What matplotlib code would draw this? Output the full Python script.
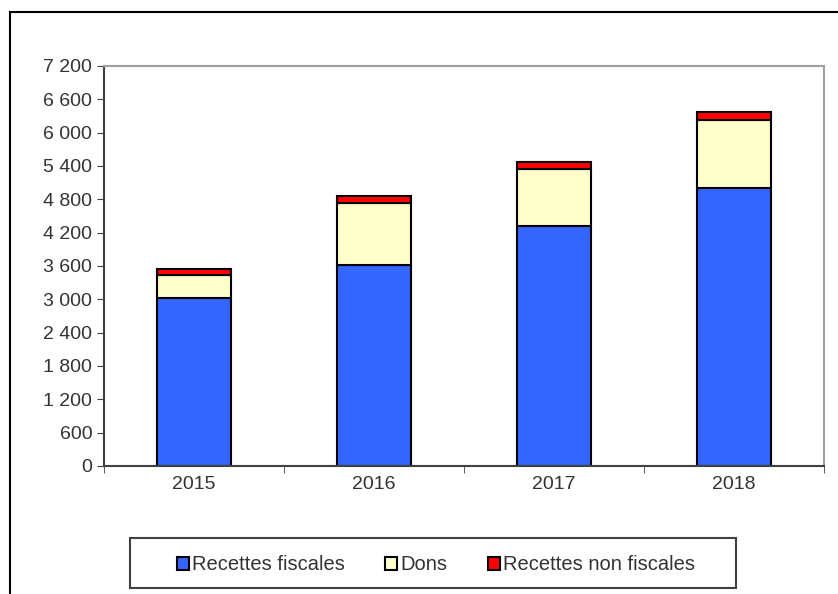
import matplotlib
matplotlib.use("Agg")
import matplotlib.pyplot as plt
from matplotlib.patches import Rectangle
from matplotlib.lines import Line2D
from matplotlib.ticker import FuncFormatter, FixedLocator
import numpy as np

plt.rcParams['font.family'] = ['Liberation Sans', 'DejaVu Sans']

years = ['2015', '2016', '2017', '2018']
recettes_fiscales = [3020, 3620, 4320, 5010]
dons = [420, 1120, 1030, 1210]
recettes_non_fiscales = [100, 120, 120, 145]

fig = plt.figure(figsize=(8.38, 5.94), dpi=100)
ax = fig.add_axes([104 / 838, 1 - 466 / 594, 720 / 838, 400 / 594])

x = np.arange(len(years))
w = 0.41
fisc = np.array(recettes_fiscales)
dn = np.array(dons)
nf = np.array(recettes_non_fiscales)

b1 = ax.bar(x, fisc, w, color='#3366FF', edgecolor='black', linewidth=1.5, label='Recettes fiscales')
b2 = ax.bar(x, dn, w, bottom=fisc, color='#FFFFCC', edgecolor='black', linewidth=1.5, label='Dons')
b3 = ax.bar(x, nf, w, bottom=fisc + dn, color='#FF0000', edgecolor='black', linewidth=1.5,
            label='Recettes non fiscales')

ax.set_xlim(-0.5, 3.5)
ax.set_ylim(0, 7200)
ax.set_yticks(np.arange(0, 7201, 600))
ax.yaxis.set_major_formatter(FuncFormatter(lambda v, p: f"{int(v):,}".replace(",", " ")))
ax.set_xticks(x)
ax.set_xticklabels(years)
ax.xaxis.set_minor_locator(FixedLocator(np.arange(-0.5, 4, 1.0)))
ax.tick_params(axis='x', which='major', length=0, labelsize=14, pad=7, colors='#333333')
ax.tick_params(axis='x', which='minor', length=5, direction='out', color='#404040')
ax.tick_params(axis='y', length=5, direction='out', labelsize=14, colors='#333333', color='#404040')

for s in ['left', 'bottom']:
    ax.spines[s].set_color('#404040')
    ax.spines[s].set_linewidth(1.5)
for s in ['top', 'right']:
    ax.spines[s].set_color('#A0A0A0')
    ax.spines[s].set_linewidth(1.5)

# outer chart frame
fig.add_artist(Line2D([10 / 838, 1], [1 - 12 / 594, 1 - 12 / 594], color='black', lw=1.5,
                      transform=fig.transFigure))
fig.add_artist(Line2D([10 / 838, 10 / 838], [0, 1 - 12 / 594], color='black', lw=1.5,
                      transform=fig.transFigure))

# legend box
fig.add_artist(Rectangle((130 / 838, 1 - 588 / 594), 606 / 838, 50 / 594, fill=False,
                         edgecolor='#404040', lw=1.5, transform=fig.transFigure))
fig.legend(handles=[b1, b2, b3], loc='center', bbox_to_anchor=(436 / 838, 1 - 565 / 594),
           ncol=3, frameon=False, fontsize=14.5, handlelength=0.6, handleheight=0.6,
           handletextpad=0.15, columnspacing=2.0, labelcolor='#333333')

fig.savefig('out.png', dpi=100)
plt.close(fig)
